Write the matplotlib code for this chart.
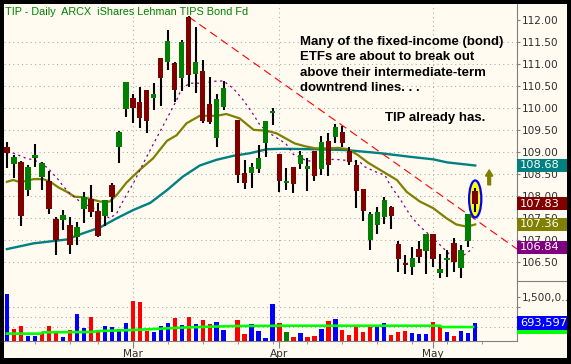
import matplotlib
matplotlib.use('Agg')
import matplotlib.pyplot as plt
import numpy as np
from matplotlib.patches import Rectangle, Ellipse, FancyArrow

plt.rcParams['lines.scale_dashes'] = False

nan = np.nan
# daily bars, slot 32 is empty (Good Friday)
opens = [109.11, 108.73, 108.79, 108.14, 108.88, 108.43, 108.35, 107.49, 107.46, 107.35,
         107.08, 107.71, 107.95, 107.67, 107.55, 108.26, 109.13, 109.98, 110.24, 110.14,
         110.42, 110.23, 111.14, 111.05, 111.04, 110.68, 112.08, 110.79, 110.85, 110.10,
         109.33, 110.04, nan, 109.73, 108.54, 108.52, 108.62, 109.22, 109.90, 108.96,
         108.30, 108.66, 108.73, 108.63, 109.04, 108.63, 109.25, 109.35, 109.45, 109.04,
         108.71, 108.17, 107.00, 107.35, 107.52, 107.75, 106.92, 106.49, 106.39, 106.80,
         106.76, 107.14, 106.25, 106.55, 106.94, 106.36, 106.99, 108.12]
highs = [109.23, 108.94, 108.80, 108.70, 109.19, 108.79, 108.57, 107.52, 107.69, 107.54,
         107.41, 108.09, 108.26, 107.84, 107.92, 108.30, 109.48, 110.60, 110.32, 110.49,
         110.42, 110.57, 111.15, 111.78, 111.06, 111.55, 112.10, 111.85, 111.10, 110.72,
         110.33, 110.63, nan, 109.73, 108.83, 108.75, 109.17, 109.70, 110.01, 108.96,
         108.64, 108.66, 109.04, 108.86, 109.04, 109.38, 109.43, 109.64, 109.60, 109.11,
         108.83, 108.17, 107.65, 107.75, 107.99, 107.78, 106.98, 106.67, 106.85, 106.98,
         107.14, 107.14, 106.69, 106.78, 107.06, 106.89, 107.60, 108.18]
lows = [108.65, 108.41, 107.33, 108.01, 108.67, 108.14, 107.60, 106.67, 107.23, 106.69,
        106.89, 107.40, 107.54, 107.08, 107.33, 107.65, 108.76, 109.81, 109.66, 109.56,
        109.43, 109.95, 110.06, 110.87, 110.15, 110.39, 110.49, 110.34, 109.66, 109.64,
        109.13, 109.95, nan, 108.31, 108.17, 108.20, 108.54, 108.90, 109.62, 108.09,
        108.14, 108.07, 108.61, 108.13, 108.35, 108.48, 108.47, 109.20, 109.13, 108.71,
        107.74, 107.45, 106.78, 107.14, 107.37, 107.25, 106.29, 106.23, 106.21, 106.49,
        106.23, 106.39, 106.14, 106.17, 106.29, 106.14, 106.84, 107.65]
closes = [108.99, 108.89, 107.55, 108.67, 108.94, 108.76, 107.71, 107.00, 107.57, 106.89,
          107.31, 107.98, 107.65, 107.10, 107.92, 107.99, 109.47, 110.60, 110.00, 109.77,
          109.70, 110.33, 110.68, 111.53, 110.42, 111.51, 110.76, 111.06, 109.72, 109.68,
          110.21, 110.47, nan, 108.48, 108.31, 108.67, 108.88, 109.70, 109.94, 108.35,
          108.35, 108.28, 108.94, 108.69, 108.47, 109.23, 108.72, 109.57, 109.20, 108.79,
          108.13, 107.67, 107.60, 107.65, 107.92, 107.56, 106.57, 106.43, 106.60, 106.62,
          107.14, 106.58, 106.35, 106.60, 106.50, 106.78, 107.60, 107.83]
# volume in millions of shares
volume = [1.58, 0.51, 0.61, 0.31, 0.31, 0.39, 0.61, 0.43, 0.28, 0.49,
          0.98, 0.55, 0.89, 0.43, 0.61, 0.58, 0.51, 0.70, 1.37, 1.34,
          0.46, 0.43, 0.61, 0.70, 0.86, 0.64, 0.89, 0.67, 0.79, 0.67,
          0.73, 0.49, nan, 0.79, 0.37, 0.67, 0.46, 0.25, 1.28, 0.70,
          0.43, 0.28, 0.40, 0.28, 0.31, 0.52, 0.76, 0.82, 0.49, 0.34,
          0.58, 0.43, 0.64, 0.58, 0.70, 0.34, 0.43, 0.46, 0.40, 0.37,
          0.37, 0.73, 0.61, 0.43, 0.31, 0.46, 0.40, 0.6936]

# moving averages (bar position, value)
ma_short_x = [0, 0.9, 1.9, 2.8, 3.8, 4.7, 5.9, 6.6, 7.4, 8.1, 9.0, 10.0, 10.9, 11.9, 13.3, 14.7,
              15.7, 16.7, 18.1, 20.0, 21.4, 22.9, 24.3, 25.0, 26.2, 28.1, 30.0, 31.0, 32.4, 33.8,
              35.3, 36.2, 37.6, 39.1, 40.0, 41.0, 43.0, 45.0, 47.0, 49.0, 50.5, 51.2, 52.7, 54.1,
              54.8, 56.2, 57.7, 59.1, 60.5, 62.0, 63.4, 64.8, 65.8, 66.7]
ma_short_y = [108.99, 108.98, 108.92, 108.86, 108.83, 108.76, 108.64, 108.51, 108.37, 108.22,
              108.07, 107.94, 107.82, 107.78, 107.65, 107.50, 107.61, 107.92, 108.30, 108.90,
              109.32, 109.77, 110.19, 110.45, 110.57, 110.57, 110.62, 110.62, 110.45, 110.19,
              109.85, 109.62, 109.43, 109.28, 109.18, 108.95, 108.80, 108.83, 108.84, 108.81,
              108.78, 108.67, 108.56, 108.48, 108.26, 107.95, 107.57, 107.31, 107.12, 106.89,
              106.67, 106.63, 106.70, 106.84]
ma_mid_x = [0, 0.9, 1.9, 3.8, 5.2, 6.2, 7.4, 8.6, 9.7, 10.9, 12.4, 13.3, 14.7, 15.7, 17.1,
            19.0, 20.9, 22.9, 24.3, 25.7, 27.6, 30.0, 31.4, 33.3, 35.3, 37.2, 38.6, 40.5, 41.2,
            42.6, 44.1, 45.5, 47.4, 48.8, 50.2, 51.7, 53.6, 55.8, 57.2, 59.1, 61.0, 62.9, 64.3,
            65.8, 67.0]
ma_mid_y = [108.33, 108.37, 108.32, 108.39, 108.39, 108.33, 108.20, 108.10, 107.99, 107.98,
            107.92, 107.88, 107.88, 108.03, 108.31, 108.60, 108.86, 109.26, 109.39, 109.66,
            109.83, 109.83, 109.87, 109.77, 109.51, 109.49, 109.43, 109.26, 109.20, 109.14,
            109.09, 109.09, 109.10, 109.07, 108.94, 108.76, 108.58, 108.37, 108.10, 107.88,
            107.73, 107.50, 107.36, 107.31, 107.36]
ma_long_x = [0, 3.8, 8.6, 10.9, 13.3, 15.7, 18.1, 20.5, 22.9, 25.2, 27.6, 30.0, 32.4, 34.8,
             37.2, 39.5, 43.8, 48.6, 53.4, 58.1, 61.0, 63.0, 67.0]
ma_long_y = [106.80, 106.93, 107.02, 107.16, 107.29, 107.50, 107.69, 107.85, 108.14, 108.45,
             108.70, 108.83, 108.92, 108.98, 109.07, 109.08, 109.07, 109.05, 108.98, 108.89,
             108.84, 108.77, 108.70]
vol_ma_x = [0, 4.9, 5.1, 12, 13.3, 18, 21, 25.8, 32.5, 40, 62, 62.2, 66.7]
vol_ma_y = [0.38, 0.38, 0.42, 0.43, 0.46, 0.49, 0.52, 0.57, 0.61, 0.62, 0.62, 0.58, 0.58]

trend_x = [26, 73]
trend_y = [112.08, 106.80]

month_pos = [18, 39, 61]
month_labels = ['Mar', 'Apr', 'May']
week_pos = [4, 9, 13, 23, 28, 33, 38, 43, 48, 53, 58, 63, 68]

CREAM = '#fffbf0'
GRID = '#a8a8a8'
AXC = '#808080'
W, H = 571, 364

fig = plt.figure(figsize=(W / 100, H / 100), dpi=100, facecolor=CREAM)


def px_axes(x0, y0, x1, y1):
    return fig.add_axes([x0 / W, 1 - y1 / H, (x1 - x0) / W, (y1 - y0) / H])


ax = px_axes(4, 4, 517, 280)
axv = px_axes(4, 281, 517, 341)
for a in (ax, axv):
    a.set_facecolor(CREAM)
    for s in a.spines.values():
        s.set_visible(False)
    a.spines['right'].set_visible(True)
    a.spines['right'].set_color(AXC)
    a.set_xlim(-0.415, 72.98)

ax.set_ylim(106.098, 112.37)
axv.set_ylim(0.157, 1.975)

x = np.arange(len(closes))
o = np.array(opens); c = np.array(closes); h = np.array(highs); l = np.array(lows)
v = np.array(volume)

# grid
dots = (0, (0.75, 2.4))
for p in np.arange(106.5, 111.51, 0.5):
    ax.axhline(p, color=GRID, lw=0.75, ls=dots, zorder=0)
for m in month_pos:
    ax.axvline(m, color=GRID, lw=0.75, ls=dots, zorder=0)
    axv.axvline(m, color=GRID, lw=0.75, ls=dots, zorder=0)
for g in [1.18, 0.875, 0.59]:
    axv.axhline(g, color=GRID, lw=0.75, ls=dots, zorder=0)

# moving averages and trendline
ax.plot(ma_long_x, ma_long_y, color='#008080', lw=1.7, zorder=2)
ax.plot(ma_mid_x, ma_mid_y, color='#808000', lw=1.6, zorder=2)
ax.plot(ma_short_x, ma_short_y, color='#800080', lw=0.9, ls=(0, (1.6, 2.6)), zorder=2)
ax.plot(trend_x, trend_y, color='#ff0000', lw=0.8, ls=(0, (6, 3.5)), zorder=2)

# highlight ellipse around the last bar
ax.add_patch(Ellipse((x[-1], 107.94), 1.75, 0.84, fc='#ffff00', ec='#0000ff', lw=1.6, zorder=3))
ax.add_patch(FancyArrow(69.0, 108.26, 0, 0.2, width=0.4, head_width=1.05, head_length=0.14,
                        length_includes_head=False, color='#808000', zorder=3))

# candles
ok = ~np.isnan(c)
up = c > o
ax.vlines(x[ok], l[ok], h[ok], color='black', lw=1.5, zorder=4)
body = np.maximum(np.abs(c - o), 0.03)
ax.bar(x[ok], body[ok], bottom=np.minimum(o, c)[ok], width=0.8,
       color=np.where(up, '#008000', '#800000')[ok], lw=0, zorder=5)

# volume
vcol = []
prev = None
for ci in c:
    if np.isnan(ci):
        vcol.append('none')
        continue
    if prev is None or ci > prev:
        vcol.append('#0000ff')
    elif ci < prev:
        vcol.append('#ff0000')
    else:
        vcol.append('#008000')
    prev = ci
axv.bar(x[ok], (v - 0.157)[ok], bottom=0.157, width=0.6, color=np.array(vcol)[ok], lw=0, zorder=3)
axv.plot(vol_ma_x, vol_ma_y, color='#00ff00', lw=1.9, zorder=4)

# right price axis
ax.yaxis.tick_right()
ax.set_yticks(np.arange(106.5, 112.01, 0.5))
ax.set_yticklabels(['%.2f' % t for t in np.arange(106.5, 112.01, 0.5)])
ax.tick_params(axis='y', length=2.5, color=AXC, pad=1, labelsize=7.6, labelcolor='#303030')
ax.set_xticks([])

axv.yaxis.tick_right()
axv.set_yticks([1.5, 1.18])
axv.set_yticklabels(['1,500,0...', ''])
axv.tick_params(axis='y', length=2.5, color=AXC, pad=1, labelsize=7.6, labelcolor='#303030')
axv.spines['bottom'].set_visible(True)
axv.spines['bottom'].set_color(AXC)
axv.set_xticks(month_pos)
axv.set_xticklabels(month_labels)
axv.set_xticks(week_pos, minor=True)
axv.tick_params(axis='x', which='major', length=5, color=AXC, pad=1, labelsize=7.6, labelcolor='#303030')
axv.tick_params(axis='x', which='minor', length=2.2, color=AXC)

# value boxes on the right
def value_box(a, val, text, color, hgt):
    tr = a.get_yaxis_transform()
    a.add_patch(Rectangle((1.0, val - hgt / 2), 0.1, hgt, transform=tr, fc=color, ec='none',
                          clip_on=False, zorder=6))
    a.text(1.006, val, text, transform=tr, color='white', fontsize=8.2, va='center', ha='left',
           clip_on=False, zorder=7)

value_box(ax, ma_long_y[-1], '108.68', '#008080', 0.29)
value_box(ax, closes[-1], '107.83', '#800000', 0.29)
value_box(ax, ma_mid_y[-1], '107.36', '#808000', 0.29)
value_box(ax, ma_short_y[-1], '106.84', '#800080', 0.29)
value_box(axv, vol_ma_y[-1], '', '#00ff00', 0.42)
value_box(axv, volume[-1], '693,597.00', '#0000ff', 0.42)

# separator in the label column
fig.add_artist(plt.Line2D([517 / W, 567 / W], [1 - 280.5 / H] * 2, color=AXC, lw=0.8))

# title and notes
fig.text(5 / W, 1 - 12 / H, 'TIP - Daily  ARCX  iShares Lehman TIPS Bond Fd',
         color='#008000', fontsize=7.8, family='Liberation Sans', va='center', ha='left')
note = ['Many of the fixed-income (bond)', 'ETFs are about to break out',
        'above their intermediate-term', 'downtrend lines. . .']
for k, line in enumerate(note):
    fig.text(300.5 / W, 1 - (41.7 + 15.5 * k) / H, line, fontsize=9.5, fontweight='bold',
             family='Liberation Sans', va='center', ha='left', color='black')
fig.text(385 / W, 1 - 118.3 / H, 'TIP already has.', fontsize=9.5, fontweight='bold',
         family='Liberation Sans', va='center', ha='left', color='black')

# black frame
for rx, ry, rw, rh in [(0, 0, 4, H), (567, 0, 4, H), (0, 0, W, 4), (0, 358, W, 6)]:
    fig.add_artist(Rectangle((rx / W, 1 - (ry + rh) / H), rw / W, rh / H, transform=fig.transFigure,
                             fc='black', ec='none', zorder=10))

fig.savefig('out.png', dpi=100, facecolor=CREAM)
